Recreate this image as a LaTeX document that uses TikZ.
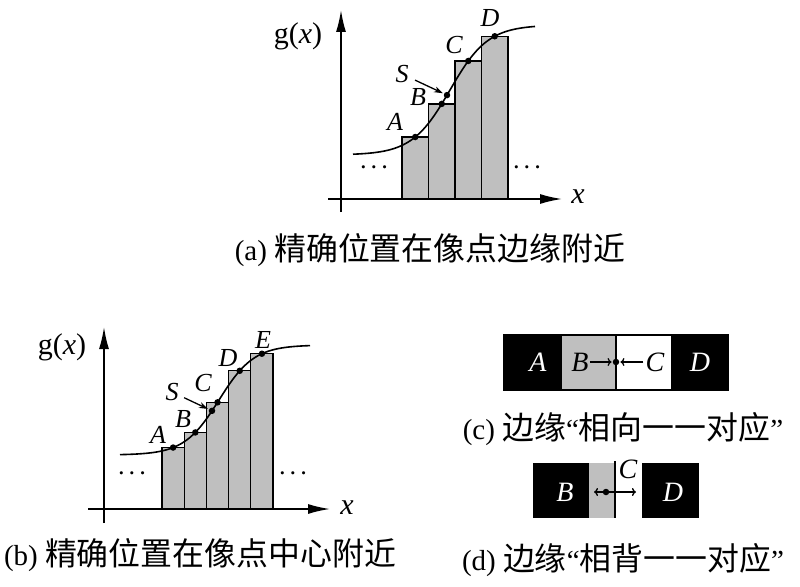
\documentclass[tikz,border=0pt]{standalone}
\usepackage{fontspec}
\setmainfont{Liberation Serif}
\newfontfamily\cjk[Scale=1.1]{Noto Sans CJK SC}
\usetikzlibrary{arrows.meta}

\begin{document}
\begin{tikzpicture}[x=1pt, y=-1pt,
    axisline/.style={line width=1.6pt, -{Latex[length=22pt, width=10pt]}},
    bar/.style={draw, line width=1.3pt, fill=gray!50},
    curve/.style={line width=1.6pt},
    dotpt/.style={circle, fill, inner sep=0pt, minimum size=6.5pt},
    lbl/.style={inner sep=0pt, font=\fontsize{26}{26}\selectfont\itshape},
    big/.style={inner sep=0pt, font=\fontsize{30}{30}\selectfont},
    caption/.style={inner sep=0pt, anchor=base, font=\fontsize{29}{29}\selectfont},
    cell/.style={inner sep=0pt, font=\fontsize{28}{28}\selectfont\itshape},
    sarrow/.style={line width=1.3pt, -{Stealth[length=9pt, width=6pt]}},
    onearrow/.style={line width=1.3pt, -{To[length=4pt, width=8pt]}},
    dblarrow/.style={line width=1.3pt, {To[length=4pt, width=8pt]}-{To[length=4pt, width=8pt]}}]
        \useasboundingbox (0,0) rectangle (800,586);

        % (a) axes
        \draw[axisline] (341,212) -- (341,10);
        \draw[axisline] (328,199) -- (562,199);
        \node[big] (agx) at (298,36) {g(\textit{x})};
        \node[big, font=\fontsize{30}{30}\selectfont\itshape] (ax) at (578,197) {x};

        % (a) bars, tops on the curve
        \foreach \n [count=\i] in {A,B,C,D} {
            \pgfmathsetmacro\xl{402+26.5*(\i-1)}
            \pgfmathsetmacro\yt{90-65*tanh((\xl+13.25-450)/38)}
            \draw[bar] (\xl,199) rectangle (\xl+26.5,\yt);
            \coordinate (a\n) at (\xl+13.25,\yt);
        }

        % (a) curve and points
        \draw[curve, domain=353:535, samples=80] plot (\x, {90-65*tanh((\x-450)/38)});
        \coordinate (aS) at (447,{90-65*tanh((447-450)/38)});
        \foreach \n in {A,B,C,D,S} \node[dotpt] (da\n) at (a\n) {};

        \node[lbl] (laA) at (395,122) {A};
        \node[lbl] (laB) at (418,97) {B};
        \node[lbl] (laC) at (454,45) {C};
        \node[lbl] (laD) at (490,18) {D};
        \node[lbl] (laS) at (402,74) {S};
        \draw[sarrow, shorten <=7pt, shorten >=1pt] (laS) -- (daS);
        \node[lbl, font=\fontsize{22}{22}\selectfont\boldmath] (adl) at (374,168) {$\cdots$};
        \node[lbl, font=\fontsize{22}{22}\selectfont\boldmath] (adr) at (527,168) {$\cdots$};

        \node[caption] (capa) at (430,260) {(a) {\cjk 精确位置在像点边缘附近}};

        % (b) axes
        \draw[axisline] (104,523) -- (104,327);
        \draw[axisline] (88,509) -- (330,509);
        \node[big] (bgx) at (62,347) {g(\textit{x})};
        \node[big, font=\fontsize{30}{30}\selectfont\itshape] (bx) at (347,508) {x};

        % (b) bars
        \foreach \n [count=\i] in {A,B,C,D,E} {
            \pgfmathsetmacro\xl{162+22.2*(\i-1)}
            \pgfmathsetmacro\yt{400-55*tanh((\xl+11.1-219)/35)}
            \draw[bar] (\xl,509) rectangle (\xl+22.2,\yt);
            \coordinate (b\n) at (\xl+11.1,\yt);
        }

        % (b) curve and points
        \draw[curve, domain=120:310, samples=80] plot (\x, {400-55*tanh((\x-219)/35)});
        \coordinate (bS) at (212,{400-55*tanh((212-219)/35)});
        \foreach \n in {A,B,C,D,E,S} \node[dotpt] (db\n) at (b\n) {};

        \node[lbl] (lbA) at (158,435) {A};
        \node[lbl] (lbB) at (183,419) {B};
        \node[lbl] (lbC) at (203,383) {C};
        \node[lbl] (lbD) at (228,358) {D};
        \node[lbl] (lbE) at (263,340) {E};
        \node[lbl] (lbS) at (172,392) {S};
        \draw[sarrow, shorten <=6pt, shorten >=1pt] (lbS) -- (dbS);
        \node[lbl, font=\fontsize{22}{22}\selectfont\boldmath] (bdl) at (132,474) {$\cdots$};
        \node[lbl, font=\fontsize{22}{22}\selectfont\boldmath] (bdr) at (293,474) {$\cdots$};

        \node[caption] (capb) at (200,565) {(b) {\cjk 精确位置在像点中心附近}};

        % (c) strip
        \fill (504,335) rectangle (562,390);
        \fill[gray!50] (562,335) rectangle (616,390);
        \fill (671,335) rectangle (728,390);
        \draw[line width=1.3pt] (504,335) rectangle (728,390);
        \draw[line width=1.3pt] (616,335) -- (616,390);
        \node[cell, text=white] (cA) at (538,362) {A};
        \node[cell] (cB) at (580,362) {B};
        \node[cell] (cC) at (655,362) {C};
        \node[cell, text=white] (cD) at (700,362) {D};
        \node[dotpt] (cdot) at (616,362) {};
        \draw[onearrow, shorten <=1pt, shorten >=1pt] (cB) -- (cdot);
        \draw[onearrow, shorten <=2pt, shorten >=1pt] (cC) -- (cdot);

        \node[caption] (capc) at (623,439) {(c) {\cjk 边缘}“{\cjk 相向一一对应}”};

        % (d) strip
        \fill (533,463) rectangle (589,518);
        \fill[gray!50] (589,463) rectangle (615,518);
        \fill (642,463) rectangle (699,518);
        \draw[line width=1.3pt] (615,461) -- (615,518);
        \node[cell, text=white] (dB) at (565,492) {B};
        \node[cell, text=white] (dD) at (673,492) {D};
        \node[cell] (dC) at (628,469) {C};
        \node[dotpt] (ddot) at (606,492) {};
        \coordinate (dl) at (594,492);
        \coordinate (dr) at (636,492);
        \draw[dblarrow] (dl) -- (dr);

        \node[caption] (capd) at (623,570) {(d) {\cjk 边缘}“{\cjk 相背一一对应}”};
    \end{tikzpicture}
\end{document}
